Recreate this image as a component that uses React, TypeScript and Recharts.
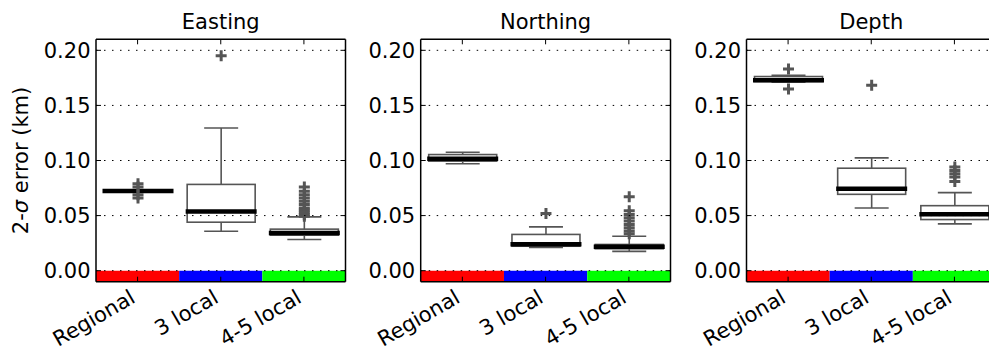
import React from 'react';
import { ComposedChart, Bar, XAxis, YAxis, ReferenceArea, ReferenceLine, Label } from 'recharts';

const categories = ['Regional', '3 local', '4-5 local'];
const stripColors = ['#ff0000', '#0000ff', '#00ff00'];
const yTicks = [0, 0.05, 0.1, 0.15, 0.2];
const yDomain: [number, number] = [-0.01, 0.21];

// Easting: whisker ends, quartiles, medians and fliers per group
const eastingLow = [0.0712, 0.0358, 0.0283];
const eastingQ1 = [0.0718, 0.044, 0.0322];
const eastingMedian = [0.0723, 0.0536, 0.0343];
const eastingQ3 = [0.0728, 0.0783, 0.0377];
const eastingHigh = [0.0735, 0.1295, 0.0488];
const eastingFliers = [
  [0.079, 0.076, 0.069, 0.066],
  [0.195],
  [0.076, 0.072, 0.069, 0.066, 0.063, 0.06, 0.057, 0.055, 0.053, 0.051, 0.0495],
];

// Northing
const northingLow = [0.097, 0.021, 0.0175];
const northingQ1 = [0.0994, 0.0222, 0.0199];
const northingMedian = [0.1015, 0.0241, 0.0217];
const northingQ3 = [0.1054, 0.0329, 0.0238];
const northingHigh = [0.1075, 0.0398, 0.0313];
const northingFliers = [
  [],
  [0.052],
  [0.067, 0.0545, 0.051, 0.048, 0.045, 0.042, 0.039, 0.036, 0.0335],
];

// Depth
const depthLow = [0.171, 0.0569, 0.0425];
const depthQ1 = [0.1717, 0.0693, 0.0464];
const depthMedian = [0.1729, 0.0744, 0.0512];
const depthQ3 = [0.1762, 0.093, 0.059];
const depthHigh = [0.1774, 0.1024, 0.0708];
const depthFliers = [[0.183, 0.1648], [0.1684], [0.094, 0.091, 0.088, 0.085, 0.081]];

const FONT = '"DejaVu Sans", sans-serif';
const FONT_SIZE = 21;
const BOX_COLOR = '#555555';
const AXIS_SIZE = 1;

type Row = {
  category: string;
  range: [number, number];
  low: number;
  q1: number;
  median: number;
  q3: number;
  high: number;
  fliers: number[];
};

function buildRows(
  low: number[],
  q1: number[],
  median: number[],
  q3: number[],
  high: number[],
  fliers: number[][]
): Row[] {
  return categories.map((category, i) => {
    const all = [low[i], high[i], ...fliers[i]];
    return {
      category,
      range: [Math.min(...all), Math.max(...all)],
      low: low[i],
      q1: q1[i],
      median: median[i],
      q3: q3[i],
      high: high[i],
      fliers: fliers[i],
    };
  });
}

// Box, whiskers, caps, median and flier crosses, placed by interpolating
// inside the pixel span the bar receives for [range min, range max].
const BoxShape = (props: any) => {
  const { x, y, width, height, payload } = props;
  if (!payload) return null;
  const [lo, hi] = payload.range as [number, number];
  const top = Math.min(y, y + height);
  const bottom = Math.max(y, y + height);
  const toY = (v: number) => top + ((bottom - top) * (hi - v)) / (hi - lo);
  const cx = x + width / 2;
  const capHalf = width / 4;
  const yq1 = toY(payload.q1);
  const yq3 = toY(payload.q3);
  const yMed = toY(payload.median);
  const yLow = toY(payload.low);
  const yHigh = toY(payload.high);
  return (
    <g>
      <rect x={x} y={yq3} width={width} height={Math.max(yq1 - yq3, 0.5)} fill="#fff" stroke={BOX_COLOR} strokeWidth={1.6} />
      <line x1={cx} y1={yq3} x2={cx} y2={yHigh} stroke={BOX_COLOR} strokeWidth={1.6} />
      <line x1={cx} y1={yq1} x2={cx} y2={yLow} stroke={BOX_COLOR} strokeWidth={1.6} />
      <line x1={cx - capHalf} y1={yHigh} x2={cx + capHalf} y2={yHigh} stroke={BOX_COLOR} strokeWidth={1.6} />
      <line x1={cx - capHalf} y1={yLow} x2={cx + capHalf} y2={yLow} stroke={BOX_COLOR} strokeWidth={1.6} />
      <line x1={x - 1.5} y1={yMed} x2={x + width + 1.5} y2={yMed} stroke="#000" strokeWidth={4.5} />
      {payload.fliers.map((v: number, i: number) => {
        const py = toY(v);
        return (
          <path
            key={i}
            d={`M${cx - 5.5},${py}H${cx + 5.5}M${cx},${py - 5.5}V${py + 5.5}`}
            stroke={BOX_COLOR}
            strokeWidth={3}
            fill="none"
          />
        );
      })}
    </g>
  );
};

const LeftTick = (props: any) => {
  const { x, y, payload } = props;
  return (
    <g>
      <line x1={x} y1={y} x2={x + 5} y2={y} stroke="#000" strokeWidth={1} />
      <text x={x - 5.5} y={y} dy="0.36em" textAnchor="end" fontSize={FONT_SIZE} fontFamily={FONT} fill="#000">
        {Number(payload.value).toFixed(2)}
      </text>
    </g>
  );
};

const RightTick = (props: any) => {
  const { x, y } = props;
  return <line x1={x} y1={y} x2={x - 5} y2={y} stroke="#000" strokeWidth={1} />;
};

const TopTick = (props: any) => {
  const { x, y } = props;
  return <line x1={x} y1={y} x2={x} y2={y + 5} stroke="#000" strokeWidth={1} />;
};

const BottomTick = (props: any) => {
  const { x, y, payload } = props;
  return (
    <g>
      <line x1={x} y1={y} x2={x} y2={y - 5} stroke="#000" strokeWidth={1} />
      <text
        transform={`translate(${x - 1},${y + 20}) rotate(-30)`}
        textAnchor="end"
        fontSize={FONT_SIZE}
        fontFamily={FONT}
        fill="#000"
      >
        {payload.value}
      </text>
    </g>
  );
};

const YTitle = (props: any) => {
  const vb = props.viewBox || { x: 0, y: 0, width: 0, height: 0 };
  const cx = vb.x + vb.width - 68;
  const cy = vb.y + vb.height / 2;
  return (
    <text
      transform={`translate(${cx},${cy}) rotate(-90)`}
      textAnchor="middle"
      fontSize={FONT_SIZE}
      fontFamily={FONT}
      fill="#000"
    >
      2-<tspan fontStyle="italic">σ</tspan> error (km)
    </text>
  );
};

type PanelProps = {
  title: string;
  rows: Row[];
  left: number;
  width: number;
  marginLeft: number;
  marginRight: number;
  showYTitle?: boolean;
};

const Panel = ({ title, rows, left, width, marginLeft, marginRight, showYTitle }: PanelProps) => (
  <div style={{ position: 'absolute', left, top: 0 }}>
    <ComposedChart
      width={width}
      height={350}
      data={rows}
      margin={{
        top: 39.3 - AXIS_SIZE,
        right: marginRight - AXIS_SIZE,
        bottom: 68.3 - AXIS_SIZE,
        left: marginLeft - AXIS_SIZE,
      }}
    >
      <XAxis
        xAxisId="b"
        dataKey="category"
        type="category"
        height={AXIS_SIZE}
        interval={0}
        tickSize={0}
        tickMargin={0}
        tickLine={false}
        axisLine={{ stroke: '#000', strokeWidth: 1.5 }}
        tick={<BottomTick />}
      />
      <XAxis
        xAxisId="t"
        dataKey="category"
        type="category"
        orientation="top"
        height={AXIS_SIZE}
        interval={0}
        tickSize={0}
        tickMargin={0}
        tickLine={false}
        axisLine={{ stroke: '#000', strokeWidth: 1.5 }}
        tick={<TopTick />}
      >
        <Label value={title} position="top" offset={9} fontSize={FONT_SIZE} fontFamily={FONT} fill="#000" />
      </XAxis>
      <YAxis
        yAxisId="l"
        type="number"
        domain={yDomain}
        allowDataOverflow
        ticks={yTicks}
        interval={0}
        width={AXIS_SIZE}
        tickSize={0}
        tickMargin={0}
        tickLine={false}
        axisLine={{ stroke: '#000', strokeWidth: 1.5 }}
        tick={<LeftTick />}
      >
        {showYTitle ? <Label content={<YTitle />} /> : null}
      </YAxis>
      <YAxis
        yAxisId="r"
        orientation="right"
        type="number"
        domain={yDomain}
        allowDataOverflow
        ticks={yTicks}
        interval={0}
        width={AXIS_SIZE}
        tickSize={0}
        tickMargin={0}
        tickLine={false}
        axisLine={{ stroke: '#000', strokeWidth: 1.5 }}
        tick={<RightTick />}
      />
      {categories.map((c, i) => (
        <ReferenceArea
          key={c}
          xAxisId="b"
          yAxisId="l"
          x1={c}
          x2={c}
          y1={yDomain[0]}
          y2={0}
          fill={stripColors[i]}
          fillOpacity={1}
          stroke="none"
          ifOverflow="visible"
        />
      ))}
      {yTicks.map((t) => (
        <ReferenceLine
          key={t}
          xAxisId="b"
          yAxisId="l"
          y={t}
          stroke="#000"
          strokeWidth={1}
          strokeDasharray="1.5 6.5"
          ifOverflow="visible"
        />
      ))}
      <Bar
        xAxisId="b"
        yAxisId="l"
        dataKey="range"
        barSize={68}
        shape={BoxShape}
        isAnimationActive={false}
      />
    </ComposedChart>
  </div>
);

const eastingRows = buildRows(eastingLow, eastingQ1, eastingMedian, eastingQ3, eastingHigh, eastingFliers);
const northingRows = buildRows(northingLow, northingQ1, northingMedian, northingQ3, northingHigh, northingFliers);
const depthRows = buildRows(depthLow, depthQ1, depthMedian, depthQ3, depthHigh, depthFliers);

export default function App() {
  return (
    <div
      style={{
        position: 'fixed',
        left: 0,
        top: 0,
        width: 989,
        height: 350,
        overflow: 'hidden',
        background: '#fff',
        fontFamily: FONT,
      }}
    >
      <Panel title="Easting" rows={eastingRows} left={0} width={350} marginLeft={96} marginRight={4.5} showYTitle />
      <Panel title="Northing" rows={northingRows} left={350} width={325} marginLeft={70.7} marginRight={4.5} />
      <Panel title="Depth" rows={depthRows} left={675} width={325} marginLeft={71.5} marginRight={4} />
    </div>
  );
}
